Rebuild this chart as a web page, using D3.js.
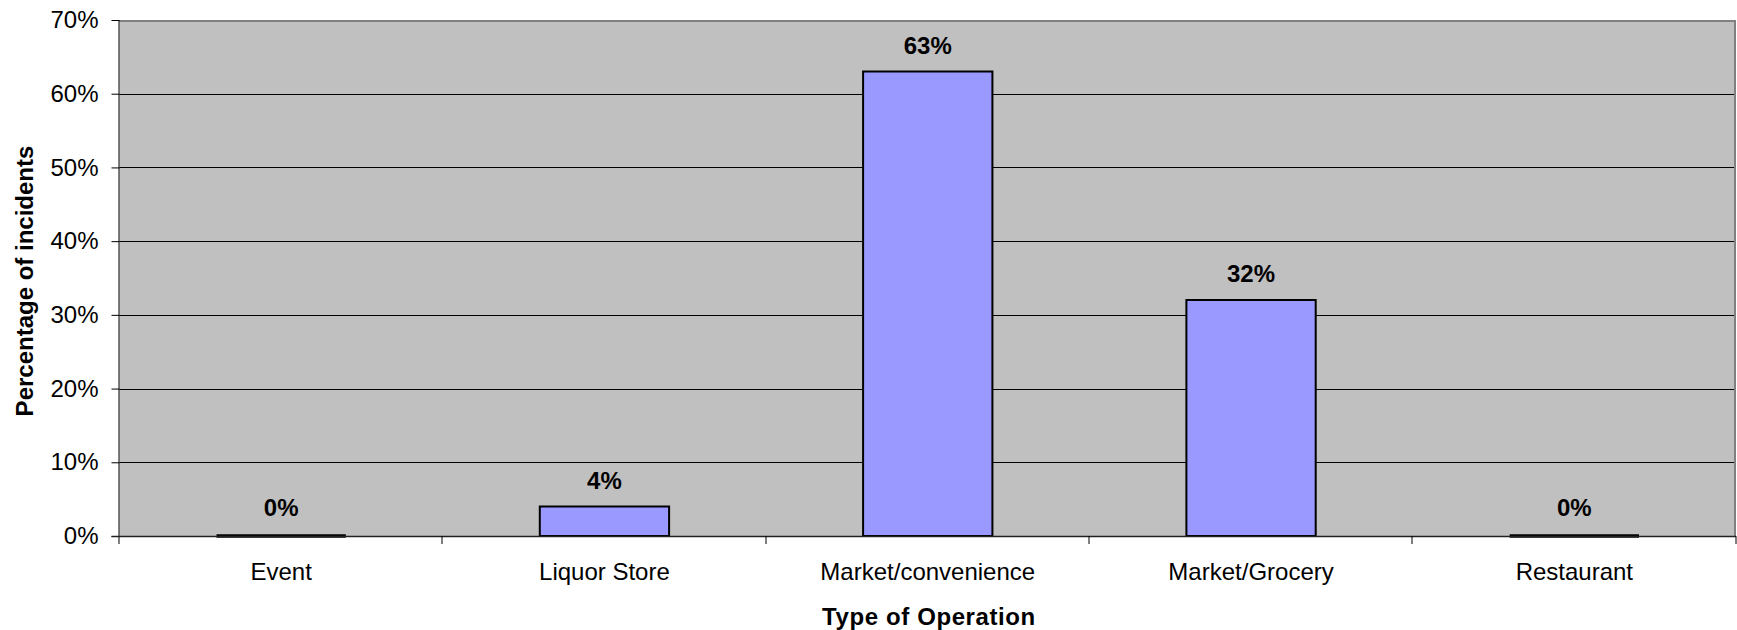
<!DOCTYPE html>
<html>
<head>
<meta charset="utf-8">
<script src="https://cdn.jsdelivr.net/npm/d3@7"></script>
<style>
  html, body { margin: 0; padding: 0; background: #fff; }
  svg { display: block; font-family: "Liberation Sans", Arial, sans-serif; }
</style>
</head>
<body>
<svg id="chart" width="1737" height="630"></svg>
<script>
// Share of incidents by type of operation
const categories = ["Event", "Liquor Store", "Market/convenience", "Market/Grocery", "Restaurant"];
const percentages = [0, 4, 63, 32, 0];
const yTicks = [0, 10, 20, 30, 40, 50, 60, 70];

const svg = d3.select("#chart");
const W = 1737, H = 630;
const m = { top: 20, right: 1, bottom: 94, left: 119.5 };
const pw = W - m.left - m.right, ph = H - m.top - m.bottom;

const x = d3.scaleBand().domain(categories).range([0, pw]).paddingInner(0.6).paddingOuter(0.3);
const xEdges = d3.scaleLinear().domain([0, categories.length]).range([0, pw]);
const y = d3.scaleLinear().domain([0, 70]).range([ph, 0]);

const g = svg.append("g").attr("transform", `translate(${m.left},${m.top})`);

// plot background
g.append("rect").attr("width", pw).attr("height", ph).attr("fill", "#C0C0C0");

// horizontal gridlines
g.append("g").selectAll("line")
  .data(yTicks.filter(t => t > 0 && t < 70))
  .join("line")
  .attr("x1", 0).attr("x2", pw)
  .attr("y1", d => Math.round(y(d)) + 0.5).attr("y2", d => Math.round(y(d)) + 0.5)
  .attr("stroke", "#000").attr("stroke-width", 1);

// top and right frame
g.append("path")
  .attr("d", `M0,1 H${pw - 1} V${ph}`)
  .attr("fill", "none").attr("stroke", "#808080").attr("stroke-width", 2);

// bars (drawn as outlined paths so zero-height bars still show as a line)
g.append("g").selectAll("path")
  .data(categories.map((c, i) => ({ c, v: percentages[i] })))
  .join("path")
  .attr("d", d => {
    const p = d3.path();
    p.rect(x(d.c), y(d.v), x.bandwidth(), y(0) - y(d.v));
    return p.toString();
  })
  .attr("fill", "#9999FF")
  .attr("stroke", "#000")
  .attr("stroke-width", d => d.v === 0 ? 3.5 : 2);

// value labels
g.append("g").selectAll("text")
  .data(categories.map((c, i) => ({ c, v: percentages[i] })))
  .join("text")
  .attr("x", d => x(d.c) + x.bandwidth() / 2)
  .attr("y", d => y(d.v) - (d.v === 0 ? 20 : 18))
  .attr("text-anchor", "middle")
  .attr("font-size", 24).attr("font-weight", "bold")
  .text(d => d.v + "%");

// y axis
const yAxis = g.append("g")
  .call(d3.axisLeft(y).tickValues(yTicks).tickSize(8).tickPadding(13).tickFormat(d => d + "%"));
yAxis.select(".domain").attr("stroke", "#000").attr("d", `M-0.5,0V${ph + 8}`);
yAxis.selectAll(".tick line").attr("stroke", "#000");
yAxis.selectAll(".tick text").attr("font-size", 24).attr("fill", "#000")
  .attr("font-family", "'Liberation Sans', Arial, sans-serif");

// x axis with ticks at category boundaries
const xAxisG = g.append("g").attr("transform", `translate(0,${ph})`);
xAxisG.append("line").attr("x1", -8).attr("x2", pw).attr("y1", 0.5).attr("y2", 0.5)
  .attr("stroke", "#222").attr("stroke-width", 1.5);
xAxisG.selectAll("line.edge")
  .data(d3.range(1, categories.length + 1))
  .join("line").attr("class", "edge")
  .attr("x1", d => Math.round(xEdges(d)) - 0.5).attr("x2", d => Math.round(xEdges(d)) - 0.5)
  .attr("y1", 0).attr("y2", 8)
  .attr("stroke", "#000");
xAxisG.selectAll("text.cat")
  .data(categories)
  .join("text").attr("class", "cat")
  .attr("x", d => x(d) + x.bandwidth() / 2)
  .attr("y", 43.5)
  .attr("text-anchor", "middle")
  .attr("font-size", 24)
  .text(d => d);

// axis titles
svg.append("text")
  .attr("x", 929)
  .attr("y", 625)
  .attr("text-anchor", "middle")
  .attr("font-size", 24).attr("font-weight", "bold")
  .attr("letter-spacing", 0.6)
  .text("Type of Operation");

svg.append("text")
  .attr("transform", `translate(33,281) rotate(-90)`)
  .attr("text-anchor", "middle")
  .attr("font-size", 24).attr("font-weight", "bold")
  .text("Percentage of incidents");
</script>
</body>
</html>
